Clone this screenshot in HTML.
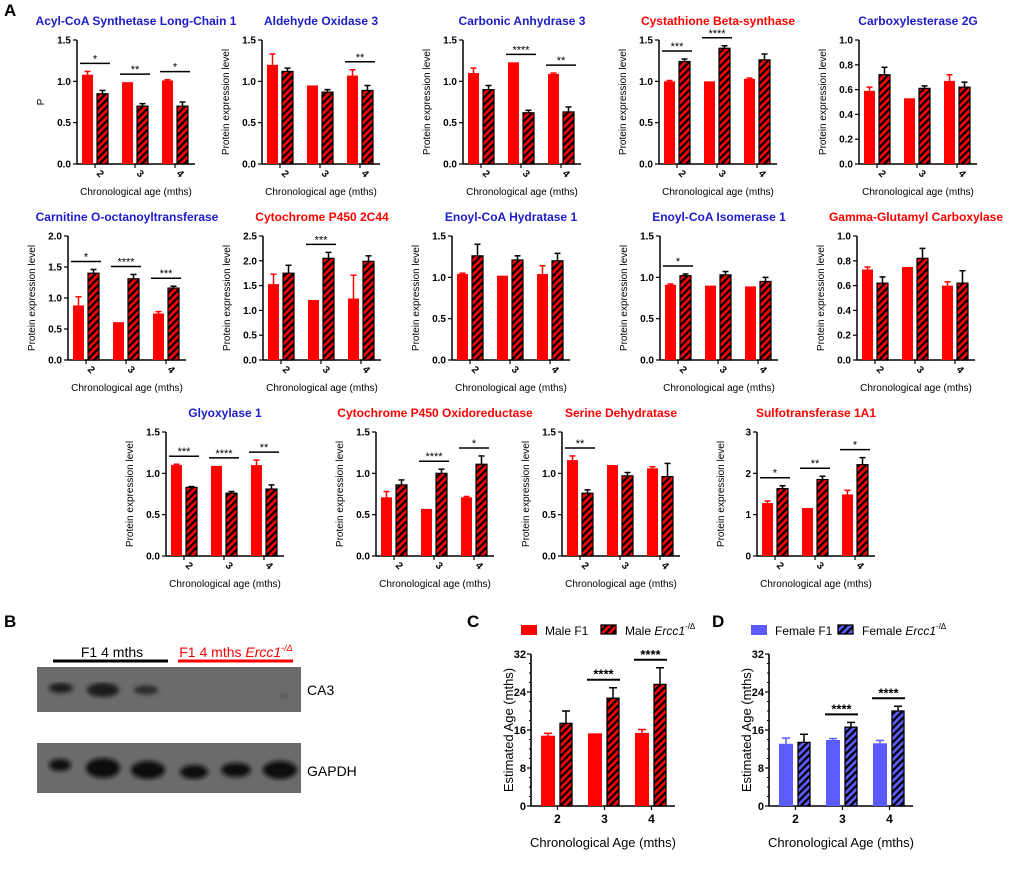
<!DOCTYPE html>
<html><head><meta charset="utf-8">
<style>
html,body{margin:0;padding:0;background:#fff;}
body{width:1020px;height:878px;overflow:hidden;font-family:"Liberation Sans",Arial,sans-serif;}
svg text{font-family:"Liberation Sans",Arial,sans-serif;}
</style></head>
<body>
<svg id="fig" width="1020" height="878" viewBox="0 0 1020 878" xmlns="http://www.w3.org/2000/svg">
<defs>
<pattern id="hatchRed" patternUnits="userSpaceOnUse" width="5" height="5" patternTransform="rotate(45)">
<rect width="5" height="5" fill="#ff0000"/><rect width="2.2" height="5" fill="#000"/>
</pattern>
<pattern id="hatchBlue" patternUnits="userSpaceOnUse" width="5" height="5" patternTransform="rotate(45)">
<rect width="5" height="5" fill="#5b5bff"/><rect width="2.2" height="5" fill="#000"/>
</pattern>
<filter id="blur"><feGaussianBlur stdDeviation="2.2"/></filter>
</defs>
<text x="4" y="16" font-size="17" font-weight="bold">A</text>
<text x="4" y="627" font-size="17" font-weight="bold">B</text>
<text x="467" y="627" font-size="17" font-weight="bold">C</text>
<text x="712" y="627" font-size="17" font-weight="bold">D</text>

<g>
<text x="112" y="657" font-size="14" text-anchor="middle">F1 4 mths</text>
<line x1="53" y1="661" x2="168" y2="661" stroke="#000" stroke-width="3"/>
<text x="236" y="657" font-size="14" text-anchor="middle" fill="#ff0000">F1 4 mths <tspan font-style="italic">Ercc1</tspan><tspan font-style="italic" font-size="9" dy="-6">-/Δ</tspan></text>
<line x1="178" y1="661" x2="293" y2="661" stroke="#ff0000" stroke-width="3"/>
<rect x="37" y="667" width="264" height="45" fill="#6b6b6b"/>
<g filter="url(#blur)" fill="#1a1a1a">
<ellipse cx="61" cy="688" rx="12" ry="5"/><ellipse cx="103" cy="690" rx="16" ry="7"/><ellipse cx="146" cy="690" rx="12" ry="4.5" fill="#2a2a2a"/><ellipse cx="284" cy="696" rx="5" ry="2" fill="#555"/>
</g>
<rect x="37" y="743" width="264" height="50" fill="#6b6b6b"/>
<g filter="url(#blur)" fill="#111">
<ellipse cx="60" cy="765" rx="11" ry="6"/><ellipse cx="103" cy="768" rx="17" ry="10"/><ellipse cx="148" cy="770" rx="17" ry="9"/><ellipse cx="194" cy="772" rx="14" ry="7"/><ellipse cx="236" cy="770" rx="15" ry="7"/><ellipse cx="280" cy="770" rx="17" ry="9"/>
</g>
<text x="307" y="695" font-size="14">CA3</text>
<text x="307" y="776" font-size="14">GAPDH</text>
</g>
<g id="charts"></g>
</svg>
<script>
// ---------- Panel A data ----------
const titles = ["Acyl-CoA Synthetase Long-Chain 1","Aldehyde  Oxidase 3","Carbonic  Anhydrase 3","Cystathione Beta-synthase","Carboxylesterase 2G",
"Carnitine O-octanoyltransferase","Cytochrome P450 2C44","Enoyl-CoA Hydratase 1","Enoyl-CoA Isomerase 1","Gamma-Glutamyl Carboxylase",
"Glyoxylase 1","Cytochrome P450 Oxidoreductase","Serine  Dehydratase","Sulfotransferase 1A1"];
const titleIsRed = [0,0,0,1,0, 0,1,0,0,1, 0,1,1,1];
const categories = ["2","3","4"];
const yMax = [1.5,1.5,1.5,1.5,1.0, 2.0,2.5,1.5,1.5,1.0, 1.5,1.5,1.5,3];
const yStep = [0.5,0.5,0.5,0.5,0.2, 0.5,0.5,0.5,0.5,0.2, 0.5,0.5,0.5,1];
const yDecimals = [1,1,1,1,1, 1,1,1,1,1, 1,1,1,0];
const maleVals = [[1.08,0.99,1.01],[1.20,0.95,1.07],[1.10,1.23,1.09],[1.00,1.00,1.03],[0.59,0.53,0.67],
[0.88,0.61,0.75],[1.53,1.21,1.24],[1.04,1.02,1.04],[0.91,0.90,0.89],[0.73,0.75,0.60],
[1.10,1.09,1.10],[0.71,0.57,0.71],[1.16,1.10,1.06],[1.28,1.16,1.49]];
const maleErr = [[0.04,0,0.01],[0.13,0,0.07],[0.06,0,0.01],[0.01,0,0.01],[0.03,0,0.05],
[0.14,0,0.03],[0.20,0,0.47],[0.01,0,0.10],[0.01,0,0],[0.02,0,0.03],
[0.01,0,0.06],[0.07,0,0.01],[0.05,0,0.02],[0.05,0,0.10]];
const mutVals = [[0.85,0.70,0.70],[1.12,0.87,0.89],[0.90,0.62,0.63],[1.24,1.40,1.26],[0.72,0.61,0.62],
[1.40,1.31,1.16],[1.75,2.05,1.99],[1.26,1.21,1.20],[1.02,1.03,0.95],[0.62,0.82,0.62],
[0.83,0.76,0.81],[0.86,1.00,1.11],[0.76,0.97,0.96],[1.63,1.85,2.21]];
const mutErr = [[0.04,0.03,0.05],[0.04,0.03,0.06],[0.05,0.03,0.06],[0.03,0.03,0.07],[0.06,0.02,0.04],
[0.06,0.07,0.03],[0.16,0.12,0.11],[0.14,0.05,0.09],[0.02,0.04,0.05],[0.05,0.08,0.10],
[0.01,0.02,0.05],[0.06,0.05,0.10],[0.04,0.04,0.16],[0.07,0.08,0.17]];
const sigLabels = [["*","**","*"],["","","**"],["","****","**"],["***","****",""],["","",""],
["*","****","***"],["","***",""],["","",""],["*","",""],["","",""],
["***","****","**"],["","****","*"],["**","",""],["*","**","*"]];
// ---------- Panels C / D data ----------
const ageCats = ["2","3","4"];
const ageTicks = [0,8,16,24,32];
const maleF1 = [14.8,15.3,15.4];
const maleF1Err = [0.5,0,0.7];
const maleErcc = [17.4,22.7,25.6];
const maleErccErr = [2.6,2.2,3.5];
const maleSig = ["","****","****"];
const femaleF1 = [13.1,13.9,13.2];
const femaleF1Err = [1.2,0.3,0.6];
const femaleErcc = [13.4,16.6,20.0];
const femaleErccErr = [1.7,1.0,1.0];
const femaleSig = ["","****","****"];

// layout (positions, not data)
const layout = [[77,40],[262,40],[463,40],[659,40],[859,40],
[68,236],[263,236],[452,236],[660,236],[857,236],
[166,432],[376,432],[562,432],[757,432]];

const NS="http://www.w3.org/2000/svg";
const root=document.getElementById('charts');
function mk(tag,attrs,parent){const e=document.createElementNS(NS,tag);for(const k in attrs)e.setAttribute(k,attrs[k]);(parent||root).appendChild(e);return e;}

titles.forEach((t,p)=>{
  const [ax,top]=layout[p];
  const H=124, W=118, bot=top+H;
  const g=mk('g',{});
  
  
  const yS=v=>bot-v/yMax[p]*H;
  const xS=(i,s)=>ax+5+i*40+s*15;
  const tt=mk('text',{x:ax+W/2,y:top-15,'font-size':12,'font-weight':'bold','text-anchor':'middle',fill:titleIsRed[p]?'#ff0000':'#1c1cc8'},g);
  tt.textContent=t;
  
  
  mk('line',{x1:ax,y1:top,x2:ax,y2:bot+0.5,stroke:'#000','stroke-width':1.5},g);
  mk('line',{x1:ax,y1:bot,x2:ax+W,y2:bot,stroke:'#000','stroke-width':1.5},g);
  const n=Math.round(yMax[p]/yStep[p]);
  for(let k=0;k<=n;k++){
    const v=k*yStep[p], y=yS(v);
    mk('line',{x1:ax-4,y1:y,x2:ax,y2:y,stroke:'#000','stroke-width':1.2},g);
    const tl=mk('text',{x:ax-6,y:y+3.5,'font-size':10,'font-weight':'bold','text-anchor':'end'},g);
    tl.textContent=v.toFixed(yDecimals[p]);
    
    
  }
  const yl=mk('text',{x:0,y:0,'font-size':10,'text-anchor':'middle',transform:`translate(${ax-33},${top+H/2}) rotate(-90)`},g);
  yl.textContent=p===0?'P':'Protein expression level';
  
  
  const xl=mk('text',{x:ax+W/2,y:bot+31,'font-size':10,'text-anchor':'middle'},g);
  xl.textContent='Chronological age (mths)';
  
  
  categories.forEach((c,i)=>{
    const cx=xS(i,0)+13;
    mk('line',{x1:cx,y1:bot,x2:cx,y2:bot+4,stroke:'#000','stroke-width':1.2},g);
    const cl=mk('text',{x:0,y:0,'font-size':10,'font-weight':'bold','text-anchor':'middle',transform:`translate(${cx+3},${bot+12}) rotate(45)`},g);
    cl.textContent=c;
    
    
    const m=maleVals[p][i], me=maleErr[p][i];
    const bx=xS(i,0);
    if(me>0) {mk('line',{x1:bx+5.5,y1:yS(m),x2:bx+5.5,y2:yS(m+me),stroke:'#ff0000','stroke-width':1.5},g);
      mk('line',{x1:bx+2.5,y1:yS(m+me),x2:bx+8.5,y2:yS(m+me),stroke:'#ff0000','stroke-width':1.5},g);}
    const b1=mk('rect',{x:bx,y:yS(m),width:11,height:bot-yS(m),fill:'#ff0000'},g);
    
    
    const u=mutVals[p][i], ue=mutErr[p][i];
    const hx=xS(i,1);
    mk('line',{x1:hx+5.5,y1:yS(u),x2:hx+5.5,y2:yS(u+ue),stroke:'#000','stroke-width':1.5},g);
    mk('line',{x1:hx+2.5,y1:yS(u+ue),x2:hx+8.5,y2:yS(u+ue),stroke:'#000','stroke-width':1.5},g);
    const b2=mk('rect',{x:hx,y:yS(u),width:11,height:bot-yS(u),fill:'url(#hatchRed)',stroke:'#000','stroke-width':1.2},g);
    
    
    const s=sigLabels[p][i];
    if(s){
      const yy=Math.min(yS(m+me),yS(u+ue))-8;
      mk('line',{x1:bx-2,y1:yy,x2:hx+13,y2:yy,stroke:'#000','stroke-width':1.5},g);
      const st=mk('text',{x:(bx+hx+11)/2,y:yy-1,'font-size':11,'text-anchor':'middle'},g);
      st.textContent=s;
      
      
    }
  });
});

function agePanel(ax,name,f1,f1e,er,ere,sig,col,pat,l1,l2,legX){
  const top=654,bot=806,H=bot-top,W=144;
  const g=mk('g',{});
  
  
  const yS=v=>bot-v/32*H;
  const xS=(i,s)=>ax+10+i*47+s*19;
  mk('line',{x1:ax,y1:top,x2:ax,y2:bot+0.5,stroke:'#000','stroke-width':1.6},g);
  mk('line',{x1:ax,y1:bot,x2:ax+W,y2:bot,stroke:'#000','stroke-width':1.6},g);
  ageTicks.forEach(v=>{
    const y=yS(v);
    mk('line',{x1:ax-4,y1:y,x2:ax,y2:y,stroke:'#000','stroke-width':1.2},g);
    for(let k=1;k<4&&v<32;k++){const yy=yS(v+k*2);mk('line',{x1:ax-2,y1:yy,x2:ax,y2:yy,stroke:'#000','stroke-width':1},g);}
    const t=mk('text',{x:ax-5,y:y+4,'font-size':11,'font-weight':'bold','text-anchor':'end'},g);
    t.textContent=v;
    
    
  });
  const yl=mk('text',{x:0,y:0,'font-size':13,'text-anchor':'middle',transform:`translate(${ax-18},${top+H/2}) rotate(-90)`},g);
  yl.textContent='Estimated Age (mths)';
  
  
  const xl=mk('text',{x:ax+W/2,y:847,'font-size':13,'text-anchor':'middle'},g);
  xl.textContent='Chronological  Age (mths)';
  
  
  ageCats.forEach((c,i)=>{
    const bx=xS(i,0),hx=xS(i,1);
    const cl=mk('text',{x:bx+16.5,y:823,'font-size':12,'font-weight':'bold','text-anchor':'middle'},g);
    cl.textContent=c;
    
    
    mk('line',{x1:bx+16.5,y1:bot,x2:bx+16.5,y2:bot+4,stroke:'#000','stroke-width':1.2},g);
    if(f1e[i]>0){mk('line',{x1:bx+7,y1:yS(f1[i]),x2:bx+7,y2:yS(f1[i]+f1e[i]),stroke:col,'stroke-width':1.5},g);
      mk('line',{x1:bx+3,y1:yS(f1[i]+f1e[i]),x2:bx+11,y2:yS(f1[i]+f1e[i]),stroke:col,'stroke-width':1.5},g);}
    const b1=mk('rect',{x:bx,y:yS(f1[i]),width:14,height:bot-yS(f1[i]),fill:col},g);
    
    
    mk('line',{x1:hx+6,y1:yS(er[i]),x2:hx+6,y2:yS(er[i]+ere[i]),stroke:'#000','stroke-width':1.5},g);
    mk('line',{x1:hx+2,y1:yS(er[i]+ere[i]),x2:hx+10,y2:yS(er[i]+ere[i]),stroke:'#000','stroke-width':1.5},g);
    const b2=mk('rect',{x:hx,y:yS(er[i]),width:12,height:bot-yS(er[i]),fill:pat,stroke:'#000','stroke-width':1.3},g);
    
    
    if(sig[i]){
      const yy=yS(er[i]+ere[i])-8;
      mk('line',{x1:bx-1,y1:yy,x2:hx+13,y2:yy,stroke:'#000','stroke-width':2},g);
      const st=mk('text',{x:(bx+hx+12)/2,y:yy-1,'font-size':13,'font-weight':'bold','text-anchor':'middle'},g);
      st.textContent=sig[i];
      
      
    }
  });
  const lg=mk('g',{},g);
  
  
  const [r1,tx1,r2,tx2]=legX;
  mk('rect',{x:r1,y:625,width:16,height:10,fill:col},lg);
  const t1=mk('text',{x:tx1,y:635,'font-size':12},lg);
  t1.textContent=l1;
  
  
  mk('rect',{x:r2,y:625,width:15,height:9,fill:pat,stroke:'#000','stroke-width':1.3},lg);
  const t2=mk('text',{x:tx2,y:635,'font-size':12},lg);
  t2.innerHTML=l2+' <tspan font-style="italic">Ercc1</tspan><tspan font-size="8" dy="-6">-/Δ</tspan>';
  
  
}
agePanel(531,'estimated-age-male-chart',maleF1,maleF1Err,maleErcc,maleErccErr,maleSig,'#ff0000','url(#hatchRed)','Male F1','Male',[521,545,601,625]);
agePanel(769,'estimated-age-female-chart',femaleF1,femaleF1Err,femaleErcc,femaleErccErr,femaleSig,'#5b5bff','url(#hatchBlue)','Female F1','Female',[751,775,838,862]);
</script>
</body></html>
